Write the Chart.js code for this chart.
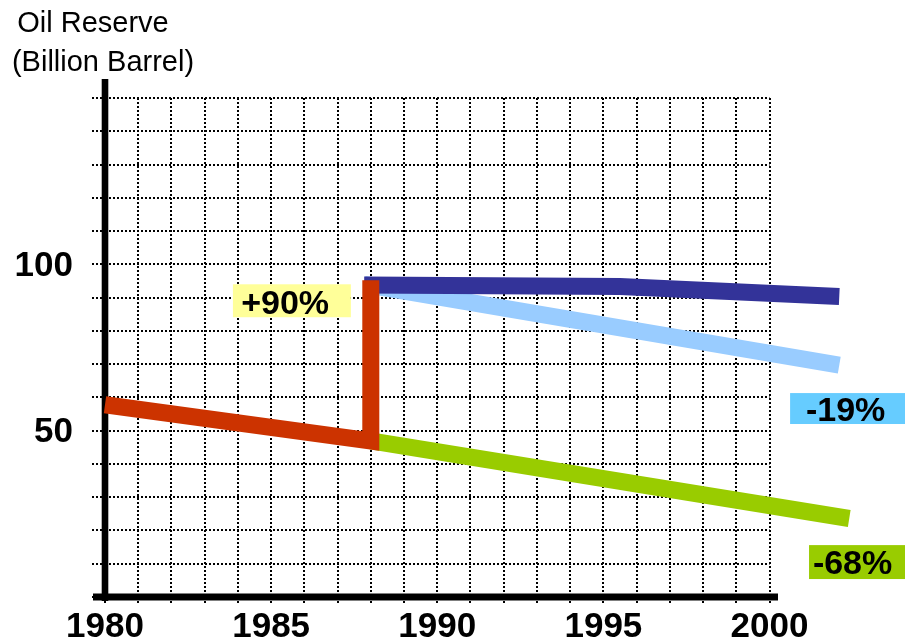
<!DOCTYPE html>
<html>
<head>
<meta charset="utf-8">
<script src="https://cdn.jsdelivr.net/npm/chart.js@4.4.1/dist/chart.umd.min.js"></script>
<style>
  html, body { margin: 0; padding: 0; background: #ffffff; }
  #wrap { width: 905px; height: 644px; position: relative; }
</style>
</head>
<body>
<div id="wrap"><canvas id="c" width="905" height="644"></canvas></div>
<script>
// Oil reserve paths, billion barrels by year
const redYears = [1980, 1988, 1988];
const redValues = [57.8, 46.9, 95.2];
const darkBlueYears = [1987.8, 1995.5, 2002.1];
const darkBlueValues = [93.8, 93.3, 90.3];
const lightBlueYears = [1987.8, 2002.1];
const lightBlueValues = [94.0, 69.7];
const greenYears = [1988, 2002.4];
const greenValues = [46.9, 23.6];

// Axis labels
const xTickLabels = [1980, 1985, 1990, 1995, 2000];
const yTickLabels = [50, 100];
const titleLines = ['Oil Reserve', '(Billion Barrel)'];
const changeLabels = ['+90%', '-19%', '-68%'];

const FONT = '"Liberation Sans", Arial, sans-serif';

// Change call-outs, placed in data units (text centre and box extent)
const callouts = [
  { text: changeLabels[0], tx: 1985.42, ty: 88.8, x0: 1983.85, x1: 1987.40, y0: 84.1, y1: 94.0, bg: '#FFFF99' },
  { text: changeLabels[1], tx: 2002.29, ty: 56.6, x0: 2000.62, x1: 2004.10, y0: 52.0, y1: 61.3, bg: '#66CCFF' },
  { text: changeLabels[2], tx: 2002.50, ty: 10.5, x0: 2001.19, x1: 2004.10, y0: 5.4, y1: 15.6, bg: '#99CC00' }
];

const toPoints = (xs, ys) => xs.map((x, i) => ({ x: x, y: ys[i] }));

const decor = {
  id: 'decor',
  beforeDatasetsDraw(chart) {
    const { ctx, chartArea: a } = chart;
    ctx.save();
    ctx.fillStyle = '#000000';
    // heavy vertical axis, running a little above the grid
    ctx.fillRect(a.left - 3.3, a.top - 19, 6.6, (a.bottom + 4) - (a.top - 19));
    // heavy horizontal axis
    ctx.fillRect(a.left - 12, a.bottom - 3.5, (a.right + 8.5) - (a.left - 12), 7);
    ctx.restore();
  },
  afterDraw(chart) {
    const { ctx, scales } = chart;
    const xs = scales.x, ys = scales.y;
    ctx.save();
    callouts.forEach(c => {
      const l = xs.getPixelForValue(c.x0), r = xs.getPixelForValue(c.x1);
      const t = ys.getPixelForValue(c.y1), b = ys.getPixelForValue(c.y0);
      ctx.fillStyle = c.bg;
      ctx.fillRect(l, t, r - l, b - t);
      ctx.fillStyle = '#000000';
      ctx.font = 'bold 34px ' + FONT;
      ctx.textAlign = 'center';
      ctx.textBaseline = 'alphabetic';
      ctx.fillText(c.text, xs.getPixelForValue(c.tx), ys.getPixelForValue(c.ty) + 12);
    });
    // axis caption
    ctx.font = '29px ' + FONT;
    ctx.textAlign = 'center';
    ctx.textBaseline = 'alphabetic';
    ctx.fillStyle = '#000000';
    ctx.fillText(titleLines[0], 93, 31.5);
    ctx.fillText(titleLines[1], 103, 70.5);
    ctx.restore();
  }
};

new Chart(document.getElementById('c'), {
  type: 'line',
  data: {
    datasets: [
      { data: toPoints(redYears, redValues), borderColor: '#CC3300' },
      { data: toPoints(greenYears, greenValues), borderColor: '#99CC00' },
      { data: toPoints(darkBlueYears, darkBlueValues), borderColor: '#333399' },
      { data: toPoints(lightBlueYears, lightBlueValues), borderColor: '#99CCFF' }
    ].map(d => Object.assign(d, { borderWidth: 17, fill: false, clip: false, pointRadius: 0 }))
  },
  options: {
    responsive: false,
    animation: false,
    layout: { padding: { top: 98, right: 135.5, left: 0, bottom: 0 } },
    plugins: { legend: { display: false }, tooltip: { enabled: false } },
    elements: { line: { tension: 0, borderCapStyle: 'butt', borderJoinStyle: 'miter' } },
    scales: {
      x: {
        type: 'linear',
        min: 1980,
        max: 2000,
        afterFit(s) { s.height = 47; s.paddingLeft = 0; s.paddingRight = 0; },
        ticks: {
          stepSize: 1,
          autoSkip: false,
          maxRotation: 0,
          padding: 1,
          color: '#000000',
          font: { family: FONT, size: 35, weight: 'bold' },
          callback: v => xTickLabels.includes(v) ? String(v) : ''
        },
        grid: { color: '#000000', lineWidth: 2, tickLength: 8, tickColor: '#000000', tickWidth: 2, tickBorderDash: [2, 2] },
        border: { display: false, dash: [2, 2] }
      },
      y: {
        type: 'linear',
        min: 0,
        max: 150,
        afterFit(s) { s.width = 105; s.paddingTop = 0; s.paddingBottom = 0; },
        ticks: {
          stepSize: 10,
          autoSkip: false,
          padding: 19,
          labelOffset: 2,
          color: '#000000',
          font: { family: FONT, size: 35, weight: 'bold' },
          callback: v => yTickLabels.includes(v) ? String(v) : ''
        },
        grid: { color: '#000000', lineWidth: 2, tickLength: 13, tickColor: '#000000', tickWidth: 2, tickBorderDash: [2, 2] },
        border: { display: false, dash: [2, 2] }
      }
    }
  },
  plugins: [decor]
});
</script>
</body>
</html>
